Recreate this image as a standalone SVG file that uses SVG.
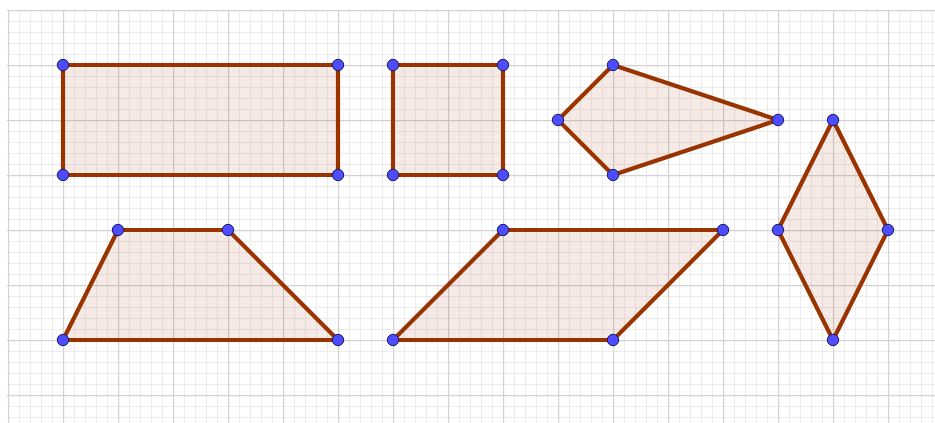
<svg xmlns="http://www.w3.org/2000/svg" width="935" height="423" viewBox="0 0 935 423">
<defs>
<pattern id="minor" x="8" y="10" width="11" height="11" patternUnits="userSpaceOnUse">
<path d="M0 0.5H11M0.5 0V11" fill="none" stroke="#ececec" stroke-width="1"/>
</pattern>
<pattern id="major" x="8" y="10" width="55" height="55" patternUnits="userSpaceOnUse">
<path d="M0 0.5H55M0.5 0V55" fill="none" stroke="#d2d2d2" stroke-width="1.4"/>
</pattern>
</defs>
<style>
.shape{fill:#993300;fill-opacity:0.1;stroke:#993300;stroke-width:4.2;stroke-linejoin:round}
.pt{fill:#4d4dff;stroke:#1a1a66;stroke-width:1}
</style>
<rect width="935" height="423" fill="#ffffff"/>
<rect x="7" y="10" width="928" height="413" fill="url(#minor)"/>
<rect x="7" y="10" width="928" height="413" fill="url(#major)"/>
<g id="rectangle">
<polygon class="shape" points="63,65 338,65 338,175 63,175"/>
<circle class="pt" cx="63" cy="65" r="5.7"/><circle class="pt" cx="338" cy="65" r="5.7"/><circle class="pt" cx="338" cy="175" r="5.7"/><circle class="pt" cx="63" cy="175" r="5.7"/>
</g>
<g id="square">
<polygon class="shape" points="393,65 503,65 503,175 393,175"/>
<circle class="pt" cx="393" cy="65" r="5.7"/><circle class="pt" cx="503" cy="65" r="5.7"/><circle class="pt" cx="503" cy="175" r="5.7"/><circle class="pt" cx="393" cy="175" r="5.7"/>
</g>
<g id="kite">
<polygon class="shape" points="613,65 778,120 613,175 558,120"/>
<circle class="pt" cx="613" cy="65" r="5.7"/><circle class="pt" cx="778" cy="120" r="5.7"/><circle class="pt" cx="613" cy="175" r="5.7"/><circle class="pt" cx="558" cy="120" r="5.7"/>
</g>
<g id="trapezoid">
<polygon class="shape" points="118,230 228,230 338,340 63,340"/>
<circle class="pt" cx="118" cy="230" r="5.7"/><circle class="pt" cx="228" cy="230" r="5.7"/><circle class="pt" cx="338" cy="340" r="5.7"/><circle class="pt" cx="63" cy="340" r="5.7"/>
</g>
<g id="parallelogram">
<polygon class="shape" points="503,230 723,230 613,340 393,340"/>
<circle class="pt" cx="503" cy="230" r="5.7"/><circle class="pt" cx="723" cy="230" r="5.7"/><circle class="pt" cx="613" cy="340" r="5.7"/><circle class="pt" cx="393" cy="340" r="5.7"/>
</g>
<g id="rhombus">
<polygon class="shape" points="833,120 888,230 833,340 778,230"/>
<circle class="pt" cx="833" cy="120" r="5.7"/><circle class="pt" cx="888" cy="230" r="5.7"/><circle class="pt" cx="833" cy="340" r="5.7"/><circle class="pt" cx="778" cy="230" r="5.7"/>
</g>
<g id="connectors"/>
</svg>
